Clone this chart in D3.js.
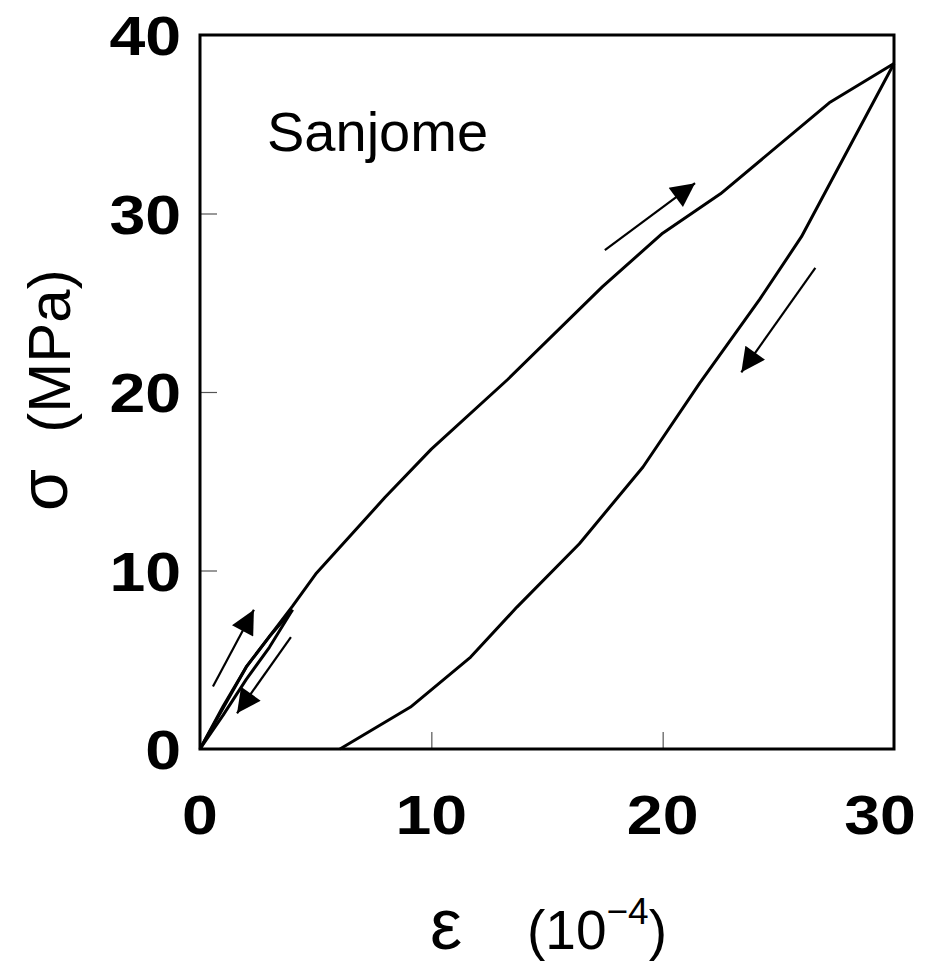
<!DOCTYPE html>
<meta charset="utf-8">
<head>
<style>
  body { margin: 0; background: #fff; }
  text { font-family: "Liberation Sans", Arial, sans-serif; fill: #000; }
  .tick-label { font-size: 56px; font-weight: bold; }
  .title { font-size: 56px; }
</style>
<script src="https://d3js.org/d3.v7.min.js"></script>
</head>
<body>
<script>

var width = 932, height = 965;
var margin = {left: 200, right: 38, top: 35, bottom: 216};

// first small cycle, then the big one (strain 1e-4, stress MPa)
var load1 = [[0, 0], [1, 2.4], [2, 4.6], [3, 6.3], [4, 7.8]];
var unload1 = [[4, 7.8], [3, 5.7], [2, 3.9], [1, 1.9], [0, 0]];
var load2 = [[0, 0], [2, 4.6], [4, 8.0], [5, 9.8], [8, 14.1], [10, 16.8], [13.3, 20.7],
  [17.4, 25.9], [20, 28.9], [22.5, 31.1], [27.2, 36.2], [30, 38.4]];
var unload2 = [[30, 38.4], [26, 28.7], [24.2, 25.2], [21.6, 20.5], [19.15, 15.8],
  [16.4, 11.5], [13.7, 7.95], [11.7, 5.15], [9.1, 2.35], [6.05, 0]];

// direction arrows: [tail, tip]
var arrows = [
  [[17.5, 27.95], [21.4, 31.7]],
  [[26.6, 26.95], [23.4, 21.1]],
  [[0.56, 3.5], [2.33, 7.8]],
  [[3.93, 6.27], [1.6, 2.0]]
];

var xTicks = [0, 10, 20, 30];
var yTicks = [0, 10, 20, 30, 40];

var svg = d3.select("body").append("svg")
  .attr("width", width)
  .attr("height", height);

svg.append("defs").append("marker")
  .attr("id", "head")
  .attr("viewBox", "0 0 10 10")
  .attr("refX", 10).attr("refY", 5)
  .attr("markerUnits", "userSpaceOnUse")
  .attr("markerWidth", 28).attr("markerHeight", 24)
  .attr("orient", "auto")
  .append("path")
  .attr("d", "M0,0L10,5L0,10Z")
  .attr("fill", "#000");

var x = d3.scaleLinear().domain([0, 30]).range([margin.left, width - margin.right]);
var y = d3.scaleLinear().domain([0, 40]).range([height - margin.bottom, margin.top]);

// inward ticks
svg.append("g")
  .attr("transform", "translate(0," + y(0) + ")")
  .call(d3.axisTop(x).tickValues([10, 20]).tickSize(17).tickFormat(""))
  .call(function(g) { g.select(".domain").remove(); })
  .selectAll("line").attr("stroke", "#555").attr("stroke-width", 1.2);

svg.append("g")
  .attr("transform", "translate(" + x(0) + ",0)")
  .call(d3.axisRight(y).tickValues([10, 20, 30]).tickSize(17).tickFormat(""))
  .call(function(g) { g.select(".domain").remove(); })
  .selectAll("line").attr("stroke", "#555").attr("stroke-width", 1.2);

// frame
svg.append("rect")
  .attr("x", x(0)).attr("y", y(40))
  .attr("width", x(30) - x(0)).attr("height", y(0) - y(40))
  .attr("fill", "none").attr("stroke", "#000").attr("stroke-width", 3);

// tick labels (glyphs drawn a bit wider than Arial)
svg.selectAll(".xl").data(xTicks).enter().append("text")
  .attr("class", "tick-label")
  .attr("transform", function(d) {
    return "translate(" + (d == 30 ? x(d) - 14 : x(d)) + ",834)scale(1.15,1)";
  })
  .attr("text-anchor", "middle")
  .text(function(d) { return d; });

svg.selectAll(".yl").data(yTicks).enter().append("text")
  .attr("class", "tick-label")
  .attr("transform", function(d) {
    return "translate(181," + (y(d) + 20) + ")scale(1.15,1)";
  })
  .attr("text-anchor", "end")
  .text(function(d) { return d; });

// curves
var line = d3.line().x(function(d) { return x(d[0]); }).y(function(d) { return y(d[1]); });

svg.selectAll(".curve").data([load1, unload1, load2, unload2]).enter().append("path")
  .attr("d", line)
  .attr("fill", "none")
  .attr("stroke", "#000")
  .attr("stroke-width", 3)
  .attr("stroke-linejoin", "round");

svg.selectAll(".arrow").data(arrows).enter().append("path")
  .attr("d", line)
  .attr("stroke", "#000")
  .attr("stroke-width", 2.2)
  .attr("marker-end", "url(#head)");

svg.append("text")
  .attr("class", "title")
  .attr("x", 267).attr("y", 151)
  .text("Sanjome");

// axis titles
svg.append("text")
  .attr("class", "title")
  .style("font-size", "60px")
  .attr("transform", "translate(70,351)rotate(-90)")
  .attr("text-anchor", "middle")
  .text("(MPa)");

svg.append("text")
  .attr("class", "title")
  .style("font-size", "68px")
  .attr("transform", "translate(67,490)rotate(-90)")
  .attr("text-anchor", "middle")
  .text("σ");

svg.append("text")
  .attr("class", "title")
  .style("font-size", "72px")
  .attr("x", 446).attr("y", 949)
  .attr("text-anchor", "middle")
  .text("ε");

var xt = svg.append("text")
  .attr("class", "title")
  .style("font-size", "55px")
  .attr("x", 527).attr("y", 949);
xt.append("tspan").text("(10");
xt.append("tspan").attr("dy", -25).style("font-size", "37px").text("−4");
xt.append("tspan").attr("dy", 25).text(")");

</script>
</body>
